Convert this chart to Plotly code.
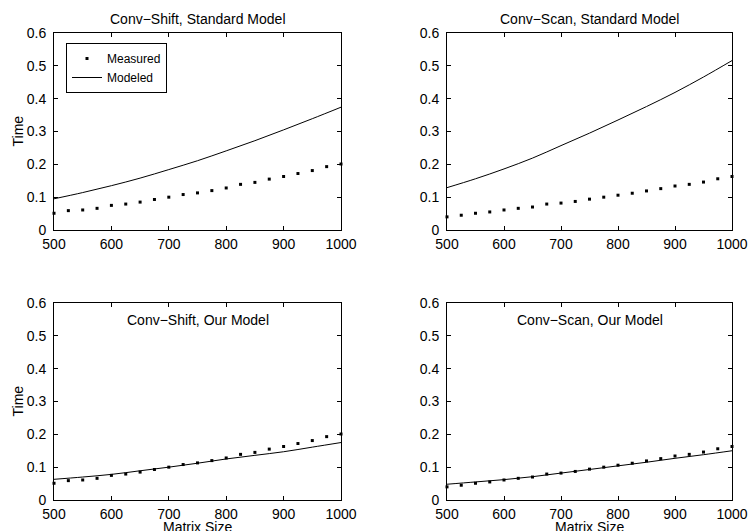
import plotly.graph_objects as go

# ---- data ----
sizes = [500, 525, 550, 575, 600, 625, 650, 675, 700, 725, 750,
         775, 800, 825, 850, 875, 900, 925, 950, 975, 1000]
shift_measured = [0.051, 0.059, 0.061, 0.066, 0.075, 0.079, 0.085, 0.093, 0.100, 0.108, 0.113,
                  0.120, 0.128, 0.139, 0.145, 0.155, 0.163, 0.172, 0.181, 0.193, 0.201]
scan_measured = [0.040, 0.045, 0.051, 0.055, 0.061, 0.066, 0.070, 0.079, 0.082, 0.087, 0.094,
                 0.100, 0.106, 0.112, 0.119, 0.126, 0.134, 0.139, 0.146, 0.156, 0.163]

model_sizes = [500, 550, 600, 650, 700, 750, 800, 850, 900, 950, 1000]
shift_standard_model = [0.095, 0.114, 0.135, 0.158, 0.184, 0.211, 0.241, 0.272, 0.305, 0.339, 0.374]
scan_standard_model = [0.129, 0.156, 0.186, 0.219, 0.257, 0.295, 0.335, 0.376, 0.419, 0.466, 0.516]
shift_our_model = [0.063, 0.070, 0.078, 0.089, 0.100, 0.112, 0.125, 0.136, 0.147, 0.161, 0.175]
scan_our_model = [0.048, 0.055, 0.062, 0.071, 0.082, 0.093, 0.104, 0.115, 0.127, 0.138, 0.150]

titles = ["Conv\u2212Shift, Standard Model", "Conv\u2212Scan, Standard Model",
          "Conv\u2212Shift, Our Model", "Conv\u2212Scan, Our Model"]
x_ticks = [500, 600, 700, 800, 900, 1000]
y_ticks = [0, 0.1, 0.2, 0.3, 0.4, 0.5, 0.6]
y_tick_text = ["0", "0.1", "0.2", "0.3", "0.4", "0.5", "0.6"]

W, H = 749, 531
FONT = "Liberation Sans, Arial, Helvetica, sans-serif"

# panel pixel boxes (left, right, top, bottom)
panels = [(54, 341, 33, 230), (447, 732, 33, 230),
          (54, 341, 303, 500), (447, 732, 303, 500)]

measured = [shift_measured, scan_measured, shift_measured, scan_measured]
modeled = [shift_standard_model, scan_standard_model, shift_our_model, scan_our_model]

fig = go.Figure()
layout = dict(template="none", width=W, height=H, autosize=False,
              margin=dict(l=0, r=0, t=0, b=0, pad=0),
              paper_bgcolor="white", plot_bgcolor="white",
              font=dict(family=FONT, size=14, color="black"))

annotations = []
for i, (l, r, t, b) in enumerate(panels):
    n = "" if i == 0 else str(i + 1)
    xa, ya = "x" + n, "y" + n
    fig.add_trace(go.Scatter(x=sizes, y=measured[i], mode="markers", name="Measured",
                             marker=dict(color="black", size=3, symbol="square",
                                         line=dict(width=0)),
                             xaxis=xa, yaxis=ya, showlegend=(i == 0), cliponaxis=False))
    fig.add_trace(go.Scatter(x=model_sizes, y=modeled[i], mode="lines", name="Modeled",
                             line=dict(color="black", width=1, shape="spline"),
                             xaxis=xa, yaxis=ya, showlegend=(i == 0)))
    axis_common = dict(showline=True, linecolor="black", linewidth=1, mirror="ticks",
                       ticks="inside", ticklen=4, tickcolor="black", tickwidth=1,
                       showgrid=False, zeroline=False, automargin=False,
                       tickfont=dict(family=FONT, size=14, color="black"))
    layout["xaxis" + n] = dict(axis_common, domain=[l / W, r / W], range=[500, 1000],
                               tickvals=x_ticks, anchor=ya, ticklabelstandoff=1)
    layout["yaxis" + n] = dict(axis_common, domain=[1 - b / H, 1 - t / H], range=[0, 0.6],
                               tickvals=y_ticks, ticktext=y_tick_text, anchor=xa,
                               ticklabelstandoff=4)
    cx = (l + r) / 2 / W
    if i < 2:
        annotations.append(dict(text=titles[i], x=cx, y=1 - 19 / H, xref="paper", yref="paper",
                                showarrow=False, xanchor="center", yanchor="middle",
                                font=dict(size=14)))
    else:
        annotations.append(dict(text=titles[i], x=cx, y=1 - 320 / H, xref="paper", yref="paper",
                                showarrow=False, xanchor="center", yanchor="middle",
                                font=dict(size=14)))
        annotations.append(dict(text="Matrix Size", x=cx, y=1 - 527 / H, xref="paper", yref="paper",
                                showarrow=False, xanchor="center", yanchor="middle",
                                font=dict(size=14)))
    if i in (0, 2):
        annotations.append(dict(text="Time", x=17 / W, y=1 - (t + b) / 2 / H, xref="paper",
                                yref="paper", showarrow=False, textangle=-90,
                                xanchor="center", yanchor="middle", font=dict(size=14)))

layout["annotations"] = annotations
layout["legend"] = dict(x=66 / W, y=1 - 43 / H, xanchor="left", yanchor="top",
                        bordercolor="black", borderwidth=1, bgcolor="white",
                        font=dict(family=FONT, size=12, color="black"),
                        tracegroupgap=0, itemwidth=30)
fig.update_layout(**layout)
fig.write_html("out.html")
